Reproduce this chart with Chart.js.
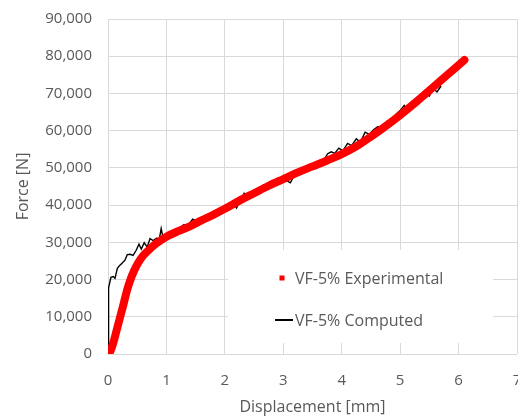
<!DOCTYPE html>
<html>
<head>
<meta charset="utf-8">
<script src="https://cdn.jsdelivr.net/npm/chart.js@4.4.1/dist/chart.umd.min.js"></script>
<style>
  html, body { margin: 0; padding: 0; background: #fff; overflow: hidden; }
  #wrap { width: 530px; height: 417px; position: relative; }
</style>
</head>
<body>
<div id="wrap"><canvas id="forceChart"></canvas></div>
<script>
// Force vs displacement - VF-5% test and model
const X_TICKS = [0, 1, 2, 3, 4, 5, 6, 7];
const Y_TICKS = [0, 10000, 20000, 30000, 40000, 50000, 60000, 70000, 80000, 90000];

const expDisp  = [0, 0.03, 0.06, 0.1, 0.15, 0.2, 0.26, 0.32, 0.38, 0.45, 0.52, 0.6, 0.7, 0.8, 0.9, 1.0,
                  1.2, 1.4, 1.6, 1.8, 2.0, 2.25, 2.5, 2.75, 3.0, 3.25, 3.5, 3.75, 4.0, 4.25,
                  4.5, 4.75, 5.0, 5.25, 5.5, 5.75, 6.1];
const expForce = [0, 400, 1500, 3500, 6500, 9500, 13000, 16800, 19800, 22500, 24600, 26400, 28000, 29400, 30500, 31500,
                  33000, 34300, 35900, 37400, 39000, 41200, 43200, 45200, 47000, 48800, 50400, 52000, 53700, 55800,
                  58400, 61200, 64200, 67400, 70800, 74200, 79000];

const compDisp  = [0, 0.01, 0.05, 0.09, 0.12, 0.16, 0.2, 0.24, 0.29, 0.33, 0.38, 0.43, 0.48, 0.53, 0.57,
                   0.62, 0.67, 0.72, 0.77, 0.83, 0.88, 0.91, 0.94, 1.0, 1.05, 1.1, 1.15, 1.22, 1.3, 1.36,
                   1.45, 1.52, 1.6, 1.7, 1.8, 1.85, 1.92, 2.0, 2.08, 2.15, 2.2, 2.26, 2.33, 2.4, 2.5,
                   2.6, 2.7, 2.77, 2.85, 2.93, 3.0, 3.08, 3.12, 3.2, 3.3, 3.4, 3.5, 3.6, 3.7, 3.76,
                   3.82, 3.88, 3.95, 4.02, 4.1, 4.17, 4.25, 4.32, 4.4, 4.47, 4.55, 4.62, 4.7, 4.78,
                   4.85, 4.93, 5.0, 5.07, 5.13, 5.2, 5.28, 5.35, 5.42, 5.5, 5.57, 5.63, 5.7];
const compForce = [0, 17800, 20600, 20800, 20300, 23000, 23800, 24400, 25200, 26700, 26800, 26500, 27800, 29500, 28200,
                   29900, 28700, 31000, 30500, 31100, 31000, 33700, 31400, 32000, 32600, 31800, 32700, 33800, 34800, 34500,
                   36200, 35600, 36300, 36900, 37800, 38500, 38000, 39100, 39600, 40500, 39200, 41300, 43200, 42500, 43500,
                   44300, 45200, 46000, 45400, 46200, 47000, 46400, 46000, 48300, 49300, 50000, 50600, 51200, 52300, 53800,
                   54300, 53900, 55300, 54600, 56600, 56000, 57800, 56900, 59600, 59000, 60300, 61100, 60500, 62600,
                   62000, 64400, 65400, 66800, 65400, 67000, 68800, 67800, 70000, 69300, 71300, 70400, 72000];

const toPoints = (xs, ys) => xs.map((x, i) => ({ x, y: ys[i] }));
const fmtThousands = (v) => Number(v).toLocaleString('en-US');

const TEXT_COLOR = '#595959';
const GRID_COLOR = '#d9d9d9';
const FONT = '"Open Sans", "DejaVu Sans", sans-serif';

// legend drawn inside the plot, on a white box
const insideLegend = {
  id: 'insideLegend',
  afterDraw(chart, args, opts) {
    const { ctx, chartArea } = chart;
    const x0 = chartArea.left + opts.left;
    const y0 = chartArea.top + opts.top;
    ctx.save();
    ctx.fillStyle = '#fff';
    ctx.fillRect(x0, y0, opts.width, opts.height);
    ctx.font = `${opts.fontSize}px ${FONT}`;
    ctx.textBaseline = 'middle';
    ctx.textAlign = 'left';
    chart.data.datasets.forEach((ds, i) => {
      const cy = y0 + opts.firstRow + i * opts.rowGap;
      if (ds.legendMark === 'square') {
        ctx.fillStyle = ds.borderColor;
        ctx.fillRect(x0 + opts.markX - 2.5, cy - 2.5, 5, 5);
      } else {
        ctx.strokeStyle = ds.borderColor;
        ctx.lineWidth = 2;
        ctx.beginPath();
        ctx.moveTo(x0 + opts.lineX0, cy);
        ctx.lineTo(x0 + opts.lineX1, cy);
        ctx.stroke();
      }
      ctx.fillStyle = TEXT_COLOR;
      ctx.fillText(ds.label, x0 + opts.textX, cy + 1);
    });
    ctx.restore();
  }
};

new Chart(document.getElementById('forceChart'), {
  type: 'line',
  data: {
    datasets: [
      {
        label: 'VF-5% Experimental', legendMark: 'square',
        data: toPoints(expDisp, expForce),
        borderColor: '#ff0000', borderWidth: 8, borderCapStyle: 'round', borderJoinStyle: 'round',
        pointRadius: 0, cubicInterpolationMode: 'monotone',
      },
      {
        label: 'VF-5% Computed', legendMark: 'line',
        data: toPoints(compDisp, compForce),
        borderColor: '#000000', borderWidth: 1.4, pointRadius: 0, tension: 0,
      },
    ],
  },
  options: {
    responsive: true, maintainAspectRatio: false, animation: false,
    layout: { padding: { left: 10, top: 19, right: 13, bottom: 0 } },
    plugins: {
      legend: { display: false },
      tooltip: { enabled: false },
      insideLegend: {
        left: 120, top: 231, width: 265, height: 93,
        firstRow: 28, rowGap: 42, markX: 54, lineX0: 47, lineX1: 65, textX: 67, fontSize: 16,
      },
    },
    scales: {
      x: {
        type: 'linear', min: 0, max: 7,
        afterBuildTicks: (axis) => { axis.ticks = X_TICKS.map(v => ({ value: v })); },
        afterFit: (axis) => { axis.height = 63; axis.paddingLeft = 0; axis.paddingRight = 0; },
        grid: { color: GRID_COLOR, drawTicks: false },
        border: { display: false },
        ticks: { color: TEXT_COLOR, font: { family: FONT, size: 15 }, padding: 18, maxRotation: 0 },
        title: { display: true, text: 'Displacement [mm]', color: TEXT_COLOR,
                 font: { family: FONT, size: 16 }, padding: { top: 10, bottom: 0 } },
      },
      y: {
        type: 'linear', min: 0, max: 90000,
        afterBuildTicks: (axis) => { axis.ticks = Y_TICKS.map(v => ({ value: v })); },
        afterFit: (axis) => { axis.width = 98; axis.paddingTop = 0; axis.paddingBottom = 0; },
        grid: { color: GRID_COLOR, drawTicks: false },
        border: { display: false },
        ticks: { color: TEXT_COLOR, font: { family: FONT, size: 15 }, padding: 16, callback: fmtThousands },
        title: { display: true, text: 'Force [N]', color: TEXT_COLOR,
                 font: { family: FONT, size: 16 }, padding: { top: 4, bottom: 11 } },
      },
    },
  },
  plugins: [insideLegend],
});
</script>
</body>
</html>
